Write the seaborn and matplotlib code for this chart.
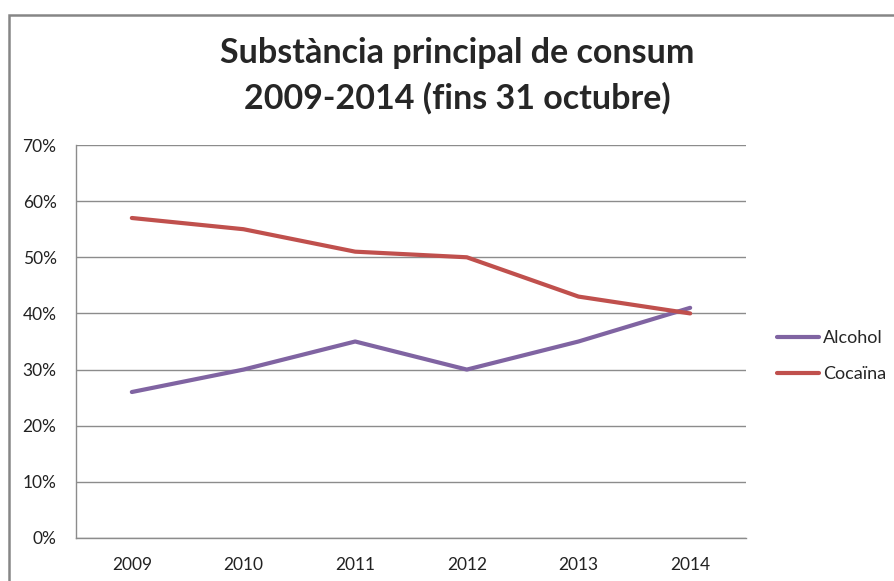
import matplotlib
matplotlib.use("Agg")
import matplotlib.pyplot as plt
from matplotlib.patches import Rectangle
from matplotlib.ticker import PercentFormatter
import numpy as np
import pandas as pd
import seaborn as sns

years = ['2009', '2010', '2011', '2012', '2013', '2014']
alcohol = [26, 30, 35, 30, 35, 41]
cocaina = [57, 55, 51, 50, 43, 40]
series = ['Alcohol', 'Cocaïna']
colors = ['#8064A2', '#C0504D']

df = pd.DataFrame({
    'any': years * 2,
    'valor': alcohol + cocaina,
    'substancia': [series[0]] * len(years) + [series[1]] * len(years),
})

sns.set_theme(style='white')
plt.rcParams['font.family'] = ['Lato', 'DejaVu Sans']

fig = plt.figure(figsize=(8.94, 5.81), dpi=100)
ax = fig.add_axes([76 / 894, 1 - 538 / 581, 670 / 894, 393 / 581])

sns.lineplot(data=df, x='any', y='valor', hue='substancia', palette=colors,
             linewidth=3, ax=ax, sort=False)

ax.set_xlim(-0.5, len(years) - 0.5)
ax.set_ylim(0, 70)
ax.set_yticks(np.arange(0, 71, 10))
ax.yaxis.set_major_formatter(PercentFormatter(decimals=0))
ax.grid(axis='y', color='#8c8c8c', linewidth=1)
ax.set_axisbelow(True)
ax.set_xlabel('')
ax.set_ylabel('')
for side in ['top', 'right']:
    ax.spines[side].set_visible(False)
for side in ['left', 'bottom']:
    ax.spines[side].set_color('#8c8c8c')
    ax.spines[side].set_linewidth(1)
ax.tick_params(axis='both', length=0, labelsize=12.5, colors='#222222')
ax.tick_params(axis='y', pad=14)
ax.tick_params(axis='x', pad=14)

ax.legend(loc='center left', bbox_to_anchor=(777 / 894, 1 - 356 / 581),
          bbox_transform=fig.transFigure, frameon=False, fontsize=13,
          handlelength=2.3, handletextpad=0.25, labelspacing=1.1,
          borderaxespad=0, borderpad=0)

fig.suptitle('Substància principal de consum\n2009-2014 (fins 31 octubre)',
             x=457 / 894, y=1 - 37 / 581, va='top', fontsize=24.5,
             fontweight='bold', linespacing=1.5)

fig.patches.append(Rectangle((9 / 894, -0.1), 1.2, 1.1 - 15 / 581,
                             transform=fig.transFigure, fill=False,
                             edgecolor='#868686', linewidth=1.8))

fig.savefig('out.png', dpi=100)
